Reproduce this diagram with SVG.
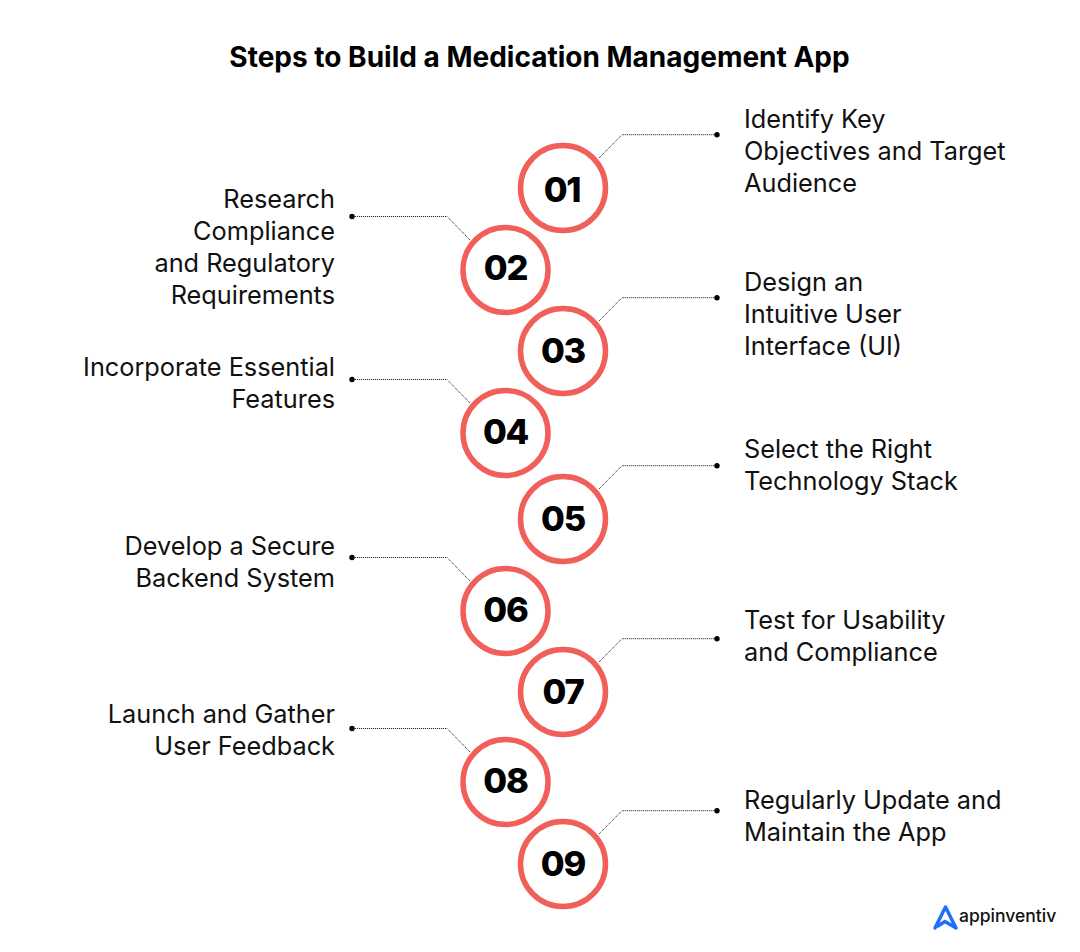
<svg xmlns="http://www.w3.org/2000/svg" width="1080" height="952" viewBox="0 0 1080 952">
<style>
.t{font-family:Inter,"Liberation Sans",sans-serif;font-size:25.300px;fill:#111}
.e{text-anchor:end}
.c{fill:#fff;stroke:#f05f5a;stroke-width:5.5}
.n{font-family:Inter,"Liberation Sans",sans-serif;font-weight:800;font-size:34.500px;letter-spacing:-1.2px;fill:#000;text-anchor:middle}
.l{fill:none;stroke:#111;stroke-width:1;stroke-dasharray:1 1}
.d{fill:#000}
</style>
<rect width="1080" height="952" fill="#fff"/>
<text x="539.500" y="66.500" text-anchor="middle" font-family="Inter,'Liberation Sans',sans-serif" font-weight="700" font-size="28px" fill="#000">Steps to Build a Medication Management App</text>
<g id="connectors">
<path class="l" d="M599 158L622 134.700H717"/><circle class="d" cx="717" cy="134.700" r="2.700"/>
<path class="l" d="M470 240L447 216.500H352"/><circle class="d" cx="352" cy="216.500" r="2.700"/>
<path class="l" d="M599 321L622 297.700H717"/><circle class="d" cx="717" cy="297.700" r="2.700"/>
<path class="l" d="M470 403L447 379.500H352"/><circle class="d" cx="352" cy="379.500" r="2.700"/>
<path class="l" d="M599 489L622 465.700H717"/><circle class="d" cx="717" cy="465.700" r="2.700"/>
<path class="l" d="M470 581L447 557.500H352"/><circle class="d" cx="352" cy="557.500" r="2.700"/>
<path class="l" d="M599 662L622 638.700H717"/><circle class="d" cx="717" cy="638.700" r="2.700"/>
<path class="l" d="M470 752L447 728.500H352"/><circle class="d" cx="352" cy="728.500" r="2.700"/>
<path class="l" d="M599 834L622 810.700H717"/><circle class="d" cx="717" cy="810.700" r="2.700"/>
</g>
<g id="step01"><circle class="c" cx="563" cy="188" r="42.500"/><text class="n" x="562" y="202">01</text>
<text class="t" x="744" y="128">Identify Key</text><text class="t" x="744" y="160">Objectives and Target</text><text class="t" x="744" y="192">Audience</text></g>
<g id="step02"><circle class="c" cx="505.500" cy="270" r="42.500"/><text class="n" x="505.500" y="280">02</text>
<text class="t e" x="335" y="208">Research</text><text class="t e" x="335" y="240">Compliance</text><text class="t e" x="335" y="272">and Regulatory</text><text class="t e" x="335" y="304">Requirements</text></g>
<g id="step03"><circle class="c" cx="563" cy="351" r="42.500"/><text class="n" x="563" y="363">03</text>
<text class="t" x="744" y="291">Design an</text><text class="t" x="744" y="323">Intuitive User</text><text class="t" x="744" y="355">Interface (UI)</text></g>
<g id="step04"><circle class="c" cx="505.500" cy="433" r="42.500"/><text class="n" x="505.500" y="444">04</text>
<text class="t e" x="335" y="376">Incorporate Essential</text><text class="t e" x="335" y="408">Features</text></g>
<g id="step05"><circle class="c" cx="563" cy="519" r="42.500"/><text class="n" x="563" y="531">05</text>
<text class="t" x="744" y="458">Select the Right</text><text class="t" x="744" y="490">Technology Stack</text></g>
<g id="step06"><circle class="c" cx="505.500" cy="611" r="42.500"/><text class="n" x="505.500" y="622">06</text>
<text class="t e" x="335" y="555">Develop a Secure</text><text class="t e" x="335" y="587">Backend System</text></g>
<g id="step07"><circle class="c" cx="563" cy="692" r="42.500"/><text class="n" x="563" y="704">07</text>
<text class="t" x="744" y="629">Test for Usability</text><text class="t" x="744" y="661">and Compliance</text></g>
<g id="step08"><circle class="c" cx="505.500" cy="782" r="42.500"/><text class="n" x="505.500" y="793">08</text>
<text class="t e" x="335" y="723">Launch and Gather</text><text class="t e" x="335" y="755">User Feedback</text></g>
<g id="step09"><circle class="c" cx="563" cy="864" r="42.500"/><text class="n" x="563" y="876">09</text>
<text class="t" x="744" y="809">Regularly Update and</text><text class="t" x="744" y="841">Maintain the App</text></g>
<g id="logo"><path d="M935 928L945.500 907L956 928L945 921.500L938 926" fill="none" stroke="#1f6fff" stroke-width="3.500" stroke-linejoin="round" stroke-linecap="round"/>
<text x="959" y="922" font-family="Inter,'Liberation Sans',sans-serif" font-size="17.500px" font-weight="500" fill="#111">appinventiv</text></g>
</svg>
